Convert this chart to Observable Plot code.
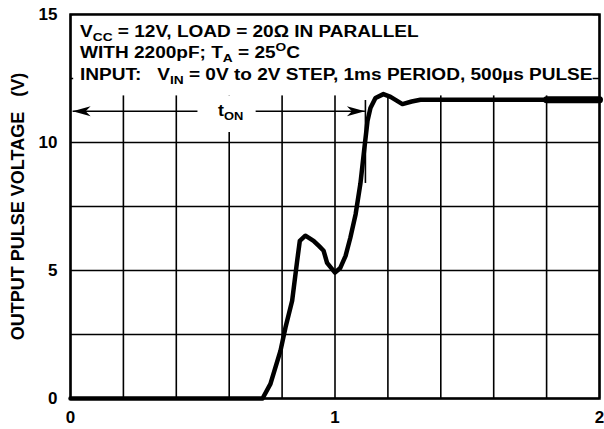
<!DOCTYPE html>
<html><head><meta charset="utf-8">
<script src="https://cdn.jsdelivr.net/npm/d3@7"></script>
<script src="https://cdn.jsdelivr.net/npm/@observablehq/plot@0.6"></script>
<style>body{margin:0;background:#fff}</style>
</head><body><div id="chart"></div>
<script>
// ---- data ----
const timeMs  = [0, 0.726, 0.756, 0.794, 0.813, 0.838, 0.857, 0.867, 0.888, 0.919, 0.94, 0.957, 0.97, 1.0, 1.02, 1.04, 1.058, 1.078, 1.096, 1.11, 1.123, 1.134, 1.153, 1.183, 1.21, 1.255, 1.29, 1.323, 1.8, 2.0];
const outputV = [0, 0, 0.57, 1.87, 2.78, 3.82, 5.38, 6.16, 6.36, 6.16, 5.95, 5.77, 5.3, 4.92, 5.1, 5.57, 6.28, 7.2, 8.39, 9.68, 10.85, 11.35, 11.74, 11.89, 11.78, 11.5, 11.6, 11.67, 11.67, 11.67];
const xTickLabels = [0, 1, 2];
const yTickLabels = [0, 5, 10, 15];
const xGridTicks = [0, 0.2, 0.4, 0.6, 0.8, 1.0, 1.2, 1.4, 1.6, 1.8, 2.0];
const yGridTicks = [0, 2.5, 5, 7.5, 10, 12.5, 15];
const yAxisTitle = "OUTPUT PULSE VOLTAGE\u00a0\u00a0\u00a0(V)";
// text runs: [text, kind] kind 0 normal, 1 subscript, 2 superscript
const noteLines = [
  [["V", 0], ["CC", 1], [" = 12V, LOAD = 20\u03a9 IN PARALLEL", 0]],
  [["WITH 2200pF; T", 0], ["A", 1], [" = 25", 0], ["O", 2], ["C", 0]],
  [["INPUT:\u00a0\u00a0 V", 0], ["IN", 1], [" = 0V to 2V STEP, 1ms PERIOD, 500\u00b5s PULSE", 0]]
];
const tonLabel = [["t", 0], ["ON", 1]];

// ---- annotation placement (data coordinates) ----
const layout = {
  noteX: 0.038, noteY: [14.12, 13.3, 12.42],
  tonX: 0.56, tonY: 11.0,
  arrows: [{x1: 0.48, x2: 0.008, y: 11.22}, {x1: 0.70, x2: 1.113, y: 11.22}],
  marker: [{x: 1.115, y1: 8.4, y2: 11.64}],
  boxes: [{x1: 0.012, x2: 1.976, y1: 11.82, y2: 15}, {x1: 0.5, x2: 0.69, y1: 10.39, y2: 11.82}],
  tailFrom: 1.8
};
const curve = timeMs.map((t, i) => ({t, v: outputV[i]}));

const headLeft = {draw(ctx) { ctx.moveTo(0, 0); ctx.lineTo(18, -5); ctx.lineTo(13, 0); ctx.lineTo(18, 5); ctx.closePath(); }};
const headRight = {draw(ctx) { ctx.moveTo(0, 0); ctx.lineTo(-18, -5); ctx.lineTo(-13, 0); ctx.lineTo(-18, 5); ctx.closePath(); }};

function richText(lines, xs, ys, size, sx) {
  return (index, scales) => {
    const g = d3.create("svg:g");
    lines.forEach((runs, i) => {
      const t = g.append("text")
        .attr("transform", `translate(${scales.x(xs[i])},${scales.y(ys[i])}) scale(${sx},1)`)
        .attr("text-anchor", "start")
        .attr("font-size", size).attr("font-weight", "bold").attr("fill", "black");
      let cur = 0;
      runs.forEach(([s, k]) => {
        const shift = k === 1 ? 4 : k === 2 ? -7 : 0;
        t.append("tspan").attr("dy", shift - cur).attr("font-size", k ? size * 0.72 : null).text(s);
        cur = shift;
      });
    });
    return g.node();
  };
}

const chart = Plot.plot({
  width: 604, height: 429,
  marginTop: 14, marginRight: 5, marginBottom: 31, marginLeft: 70,
  x: {domain: [0, 2]},
  y: {domain: [0, 15]},
  style: {fontFamily: "'Liberation Sans', Arial, sans-serif", fontSize: "17px", fontWeight: "bold", color: "black", background: "white"},
  marks: [
    Plot.gridX(xGridTicks, {stroke: "black", strokeOpacity: 1, strokeWidth: 1.6}),
    Plot.gridY(yGridTicks, {stroke: "black", strokeOpacity: 1, strokeWidth: 1.6}),
    Plot.rect(layout.boxes, {x1: "x1", x2: "x2", y1: "y1", y2: "y2", fill: "white"}),
    Plot.frame({stroke: "black", strokeWidth: 2.5}),
    Plot.axisX(xTickLabels, {tickSize: 0, tickPadding: 12, label: null, fontSize: 17, tickFormat: d => String(d)}),
    Plot.axisY(yTickLabels, {tickSize: 0, tickPadding: 13, label: null, fontSize: 17, tickFormat: d => String(d)}),
    Plot.text([yAxisTitle], {frameAnchor: "left", textAnchor: "middle", rotate: -90, dx: -52, dy: 0, fontSize: 18, fontWeight: "bold"}),
    Plot.link(layout.arrows, {x1: "x1", x2: "x2", y1: "y", y2: "y", stroke: "black", strokeWidth: 1.6}),
    Plot.dot([layout.arrows[0]], {x: "x2", y: "y", symbol: headLeft, fill: "black", stroke: "none", r: 5}),
    Plot.dot([layout.arrows[1]], {x: "x2", y: "y", symbol: headRight, fill: "black", stroke: "none", r: 5}),
    Plot.ruleX(layout.marker, {x: "x", y1: "y1", y2: "y2", stroke: "black", strokeWidth: 1.6}),
    Plot.line(curve, {x: "t", y: "v", stroke: "black", strokeWidth: 4.5, strokeLinejoin: "round"}),
    Plot.line(curve.filter(d => d.t >= layout.tailFrom), {x: "t", y: "v", stroke: "black", strokeWidth: 7}),
    richText(noteLines, noteLines.map(() => layout.noteX), layout.noteY, 16, 1.19),
    richText([tonLabel], [layout.tonX], [layout.tonY], 16, 1.12)
  ]
});
document.getElementById("chart").append(chart);
</script>
</body></html>
